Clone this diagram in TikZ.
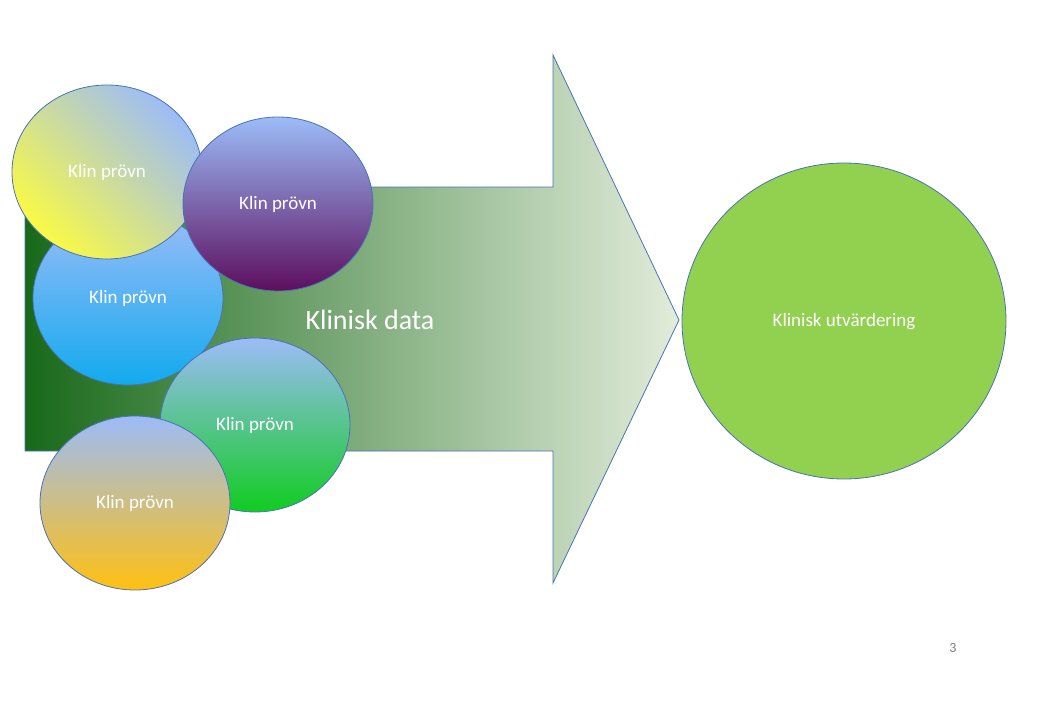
\documentclass[tikz,border=0pt]{standalone}
\usepackage{fontspec}
\setmainfont{Carlito}
\begin{document}
\begin{tikzpicture}[x=1pt,y=-1pt,
  ell/.style={draw=bc,line width=0.8pt,ellipse,minimum width=190pt,minimum height=174pt,inner sep=0pt},
  lbl/.style={text=white,font=\fontsize{19}{22}\selectfont}]
\definecolor{dg}{HTML}{18691A}\definecolor{lg}{HTML}{E2ECDA}
\definecolor{bc}{HTML}{4A72B8}\definecolor{lb}{HTML}{9CBCF8}
\definecolor{ye}{HTML}{FAFA45}\definecolor{sb}{HTML}{12AAEE}
\definecolor{pu}{HTML}{5C0E5E}\definecolor{gr}{HTML}{10CC20}
\definecolor{or}{HTML}{FFC010}\definecolor{kg}{HTML}{92D050}
\useasboundingbox[fill=white] (0,0) rectangle (1047,706);
\path[left color=dg,right color=lg,draw=bc,line width=0.8pt]
 (25,187) -- (553,187) -- (553,55) -- (679,320) -- (553,583) -- (553,451) -- (25,451) -- cycle;
\node[lbl,font=\fontsize{28}{32}\selectfont] (kd) at (370,320) {Klinisk data};
\path[draw=bc,line width=0.8pt,top color=lb,bottom color=sb] (128,298) ellipse[x radius=95,y radius=87];
\node[lbl] (c2) at (128,298) {Klin prövn};
\path[draw=bc,line width=0.8pt,left color=ye,right color=lb,shading angle=135] (107,172) ellipse[x radius=95,y radius=87];
\node[lbl] (c1) at (107,172) {Klin prövn};
\path[draw=bc,line width=0.8pt,top color=lb,bottom color=pu] (278,204) ellipse[x radius=95,y radius=87];
\node[lbl] (c3) at (278,204) {Klin prövn};
\path[draw=bc,line width=0.8pt,top color=lb,bottom color=gr] (255,425) ellipse[x radius=95,y radius=87];
\node[lbl] (c4) at (255,425) {Klin prövn};
\path[draw=bc,line width=0.8pt,top color=lb,bottom color=or] (135,503) ellipse[x radius=95,y radius=87];
\node[lbl] (c5) at (135,503) {Klin prövn};
\path[draw=bc,line width=0.8pt,fill=kg] (844,321) ellipse[x radius=162,y radius=158];
\node[lbl] (ku) at (844,322) {Klinisk utvärdering};
\node[text=gray,font=\fontsize{14}{16}\selectfont] (pg) at (953,648) {3};
\end{tikzpicture}
\end{document}
